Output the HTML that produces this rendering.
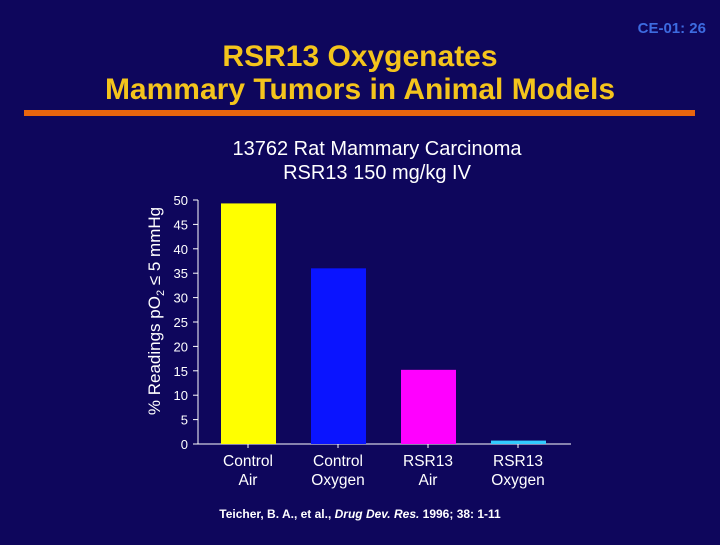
<!DOCTYPE html>
<html><head><meta charset="utf-8"><style>
body{margin:0;width:720px;height:540px;background:#0e065c;overflow:hidden;font-family:"Liberation Sans",sans-serif}
</style></head><body>
<svg width="720" height="540">
<rect width="720" height="540" fill="#0e065c"/>
<text x="706" y="33" text-anchor="end" font-size="15" font-weight="bold" fill="#3d6be0">CE-01: 26</text>
<text x="360" y="66" text-anchor="middle" font-size="30" font-weight="bold" fill="#f4c41c">RSR13 Oxygenates</text>
<text x="360" y="99" text-anchor="middle" font-size="30" font-weight="bold" fill="#f4c41c">Mammary Tumors in Animal Models</text>
<rect x="24" y="110" width="671" height="6" fill="#e8650e"/>
<text x="377" y="155" text-anchor="middle" font-size="20" fill="#ffffff">13762 Rat Mammary Carcinoma</text>
<text x="377" y="179" text-anchor="middle" font-size="20" fill="#ffffff">RSR13 150 mg/kg IV</text>
<text transform="translate(160,311) rotate(-90)" text-anchor="middle" font-size="17" fill="#ffffff">% Readings pO<tspan font-size="11" dy="4">2</tspan><tspan dy="-4"> ≤ 5 mmHg</tspan></text>
<g id="chart"></g>
<text x="360" y="518" text-anchor="middle" font-size="12" font-weight="bold" fill="#ffffff">Teicher, B. A., et al., <tspan font-style="italic">Drug Dev. Res.</tspan> 1996; 38: 1-11</text>
</svg>
<script>
const categories=[["Control","Air"],["Control","Oxygen"],["RSR13","Air"],["RSR13","Oxygen"]];
const values=[49.3,36,15.2,0.7];
const colors=["#ffff00","#0a14ff","#ff00ff","#33ccff"];
const yTicks=[0,5,10,15,20,25,30,35,40,45,50];
const NS="http://www.w3.org/2000/svg";
const g=document.getElementById('chart');
const y0=444,y1=200,yMax=50;
const yScale=v=>y0-(v/yMax)*(y0-y1);
const xStart=203,band=90;
const xScale=i=>xStart+i*band;
function el(t,a){const e=document.createElementNS(NS,t);for(const k in a)e.setAttribute(k,a[k]);g.appendChild(e);return e;}
let ax=el('line',{x1:198,x2:198,y1:y1,y2:y0,stroke:'#fff','stroke-width':1});


let bx=el('line',{x1:198,x2:571,y1:y0,y2:y0,stroke:'#fff','stroke-width':1});


yTicks.forEach(t=>{
 const y=yScale(t);
 let l=el('line',{x1:193,x2:198,y1:y,y2:y,stroke:'#fff'});
 
 
 let tx=el('text',{x:188,y:y+5,'text-anchor':'end','font-size':13,fill:'#fff'});
 tx.textContent=t;
 
 
});
values.forEach((v,i)=>{
 const cx=xScale(i)+band/2;
 let r=el('rect',{x:cx-27,y:yScale(v),width:55,height:y0-yScale(v),fill:colors[i]});
 
 
 let tk=el('line',{x1:cx,x2:cx,y1:y0,y2:y0+4,stroke:'#fff'});
 
 
 categories[i].forEach((s,j)=>{
  let tx=el('text',{x:cx,y:466+j*19,'text-anchor':'middle','font-size':15.5,fill:'#fff'});
  tx.textContent=s;
  
  
 });
});
</script>
</body></html>
